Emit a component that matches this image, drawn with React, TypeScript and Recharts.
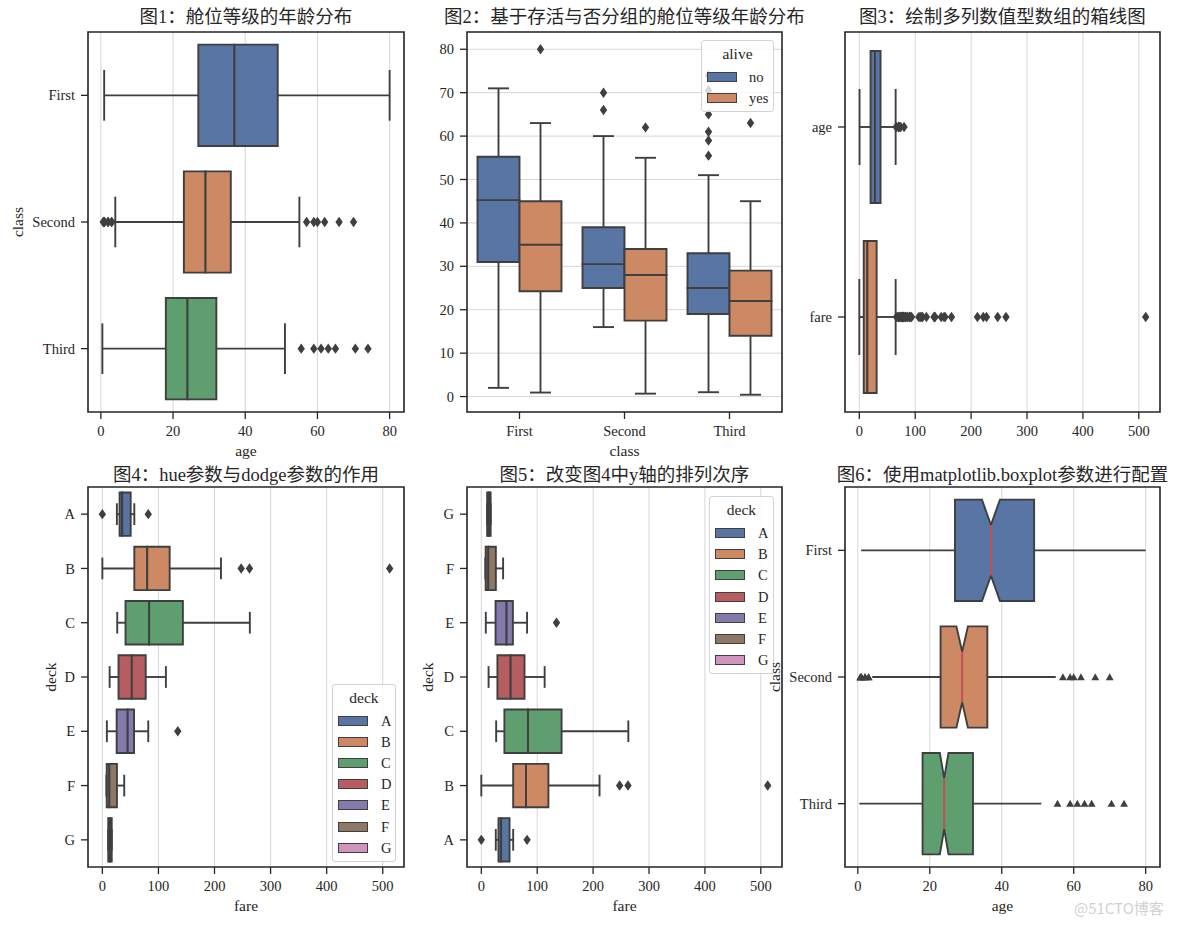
import React from 'react';
import { ScatterChart, Scatter, XAxis, YAxis, CartesianGrid, ReferenceArea, ReferenceLine } from 'recharts';

const FONT = '"Liberation Serif", "Noto Sans CJK SC", serif';
const EDGE = '#3f3f3f';
const AX = '#262626';
const GRID = '#d6d6d6';
const LW = 1.9;
const MEDIAN_RED = '#C44E52';
const PALETTE = ['#5975A4', '#CC8963', '#5F9E6E', '#B55D60', '#857AAB', '#8D7866', '#D095BF'];

// ---------- Data: age by class (图1 / 图6) ----------
const classCats = ['First', 'Second', 'Third'];
const ageLow = [0.92, 4, 0.42];
const ageQ1 = [27, 23, 18];
const ageMed = [37, 29, 24];
const ageQ3 = [49, 36, 32];
const ageHigh = [80, 55, 51];
const ageNotchLo = [34.5, 27.4, 22.8];
const ageNotchHi = [39.5, 30.6, 25.2];
const ageOutliers = [
  [],
  [0.67, 0.83, 0.83, 1, 1, 2, 2, 3, 3, 57, 59, 60, 62, 66, 70],
  [55.5, 59, 61, 63, 65, 70.5, 74],
];
const ageTicks = [0, 20, 40, 60, 80];

// ---------- Data: age by class & alive (图2) ----------
const aliveCats = ['no', 'yes'];
const noLow = [2, 16, 1];
const noQ1 = [31, 25, 19];
const noMed = [45.25, 30.5, 25];
const noQ3 = [55.25, 39, 33];
const noHigh = [71, 60, 51];
const noOutliers = [[], [66, 70], [55.5, 59, 61, 65, 70.5, 74]];
const yesLow = [0.92, 0.67, 0.42];
const yesQ1 = [24.25, 17.5, 14];
const yesMed = [35, 28, 22];
const yesQ3 = [45, 34, 29];
const yesHigh = [63, 55, 45];
const yesOutliers = [[80], [62], [63]];
const age2Ticks = [0, 10, 20, 30, 40, 50, 60, 70, 80];

// ---------- Data: numeric columns (图3) ----------
const colCats = ['age', 'fare'];
const colLow = [0.42, 0];
const colQ1 = [20.125, 7.91];
const colMed = [28, 14.45];
const colQ3 = [38, 31];
const colHigh = [65, 65];
const colOutliers = [
  [66, 70, 70, 70.5, 71, 71, 74, 80],
  [66.6, 69.3, 69.55, 71, 71.28, 73.5, 75.25, 76.29, 76.73, 77.29, 77.96, 78.27, 78.85, 79.2, 79.65,
    81.86, 82.17, 83.16, 83.48, 86.5, 89.1, 90, 91.08, 93.5, 106.43, 108.9, 110.88, 113.28, 120,
    133.65, 134.5, 135.63, 146.52, 151.55, 153.46, 164.87, 211.34, 221.78, 227.53, 247.52, 262.38, 512.33],
];
const fareTicks = [0, 100, 200, 300, 400, 500];

// ---------- Data: fare by deck (图4 / 图5) ----------
const deckCats = ['A', 'B', 'C', 'D', 'E', 'F', 'G'];
const deckLow = [25.9, 0, 26.55, 13, 8.05, 7.23, 10.46];
const deckQ1 = [30.7, 57, 41.3, 28.8, 25.5, 7.75, 10.46];
const deckMed = [35.5, 80, 83.5, 52.5, 45.2, 12.5, 13.58];
const deckQ3 = [50.5, 120, 143.6, 77.3, 56.5, 26, 16.7];
const deckHigh = [57, 211.5, 263, 113.3, 81.86, 39, 16.7];
const deckOutliers = [[0, 81.86], [247.52, 262.38, 512.33], [], [], [134.5], [], []];

// ---------- helpers ----------
type Box = { pos: number; low: number; q1: number; med: number; q3: number; high: number; fill: string; nlo?: number; nhi?: number };
type Out = { x: number; y: number };

const NotchShape = (props: any) => {
  const { x, y, width, height, b } = props;
  const px = (v: number) => x + ((v - b.q1) / (b.q3 - b.q1)) * width;
  const top = y;
  const bot = y + height;
  const yc = y + height / 2;
  const d = height / 4;
  const pts = [
    [x, top], [px(b.nlo), top], [px(b.med), yc - d], [px(b.nhi), top], [x + width, top],
    [x + width, bot], [px(b.nhi), bot], [px(b.med), yc + d], [px(b.nlo), bot], [x, bot],
  ].map((p) => p.join(',')).join(' ');
  return (
    <g>
      <polygon points={pts} fill={b.fill} stroke={EDGE} strokeWidth={LW} />
      <line x1={px(b.med)} y1={yc - d} x2={px(b.med)} y2={yc + d} stroke={MEDIAN_RED} strokeWidth={LW} />
    </g>
  );
};

function boxElements(b: Box, i: number, horiz: boolean, hw: number, cap: number, showCaps: boolean, notched: boolean) {
  const pt = (v: number, p: number) => (horiz ? { x: v, y: p } : { x: p, y: v });
  const line = (k: string, a: any, c: any) => (
    <ReferenceLine key={k} segment={[a, c]} stroke={EDGE} strokeWidth={LW} ifOverflow="visible" />
  );
  const els: any[] = [
    line(`wl${i}`, pt(b.low, b.pos), pt(b.q1, b.pos)),
    line(`wh${i}`, pt(b.q3, b.pos), pt(b.high, b.pos)),
  ];
  if (showCaps) {
    els.push(line(`cl${i}`, pt(b.low, b.pos - cap), pt(b.low, b.pos + cap)));
    els.push(line(`ch${i}`, pt(b.high, b.pos - cap), pt(b.high, b.pos + cap)));
  }
  const area = (k: string, v1: number, v2: number, extra: any = {}) =>
    horiz ? (
      <ReferenceArea key={k} x1={v1} x2={v2} y1={b.pos - hw} y2={b.pos + hw} fill={b.fill} fillOpacity={1}
        stroke={EDGE} strokeWidth={LW} ifOverflow="visible" {...extra} />
    ) : (
      <ReferenceArea key={k} x1={b.pos - hw} x2={b.pos + hw} y1={v1} y2={v2} fill={b.fill} fillOpacity={1}
        stroke={EDGE} strokeWidth={LW} ifOverflow="visible" {...extra} />
    );
  if (notched) {
    els.push(area(`n${i}`, b.q1, b.q3, { shape: (p: any) => <NotchShape {...p} b={b} /> }));
  } else {
    els.push(area(`a${i}`, b.q1, b.med));
    els.push(area(`b${i}`, b.med, b.q3));
  }
  return els;
}

const Diamond = ({ cx, cy }: any) => (
  <polygon points={`${cx},${cy - 5.2} ${cx + 3.7},${cy} ${cx},${cy + 5.2} ${cx - 3.7},${cy}`} fill={EDGE} />
);
const Triangle = ({ cx, cy }: any) => (
  <polygon points={`${cx},${cy - 3.8} ${cx + 3.9},${cy + 3.2} ${cx - 3.9},${cy + 3.2}`} fill={EDGE} />
);

type PanelProps = {
  rect: { l: number; t: number; w: number; h: number };
  horiz: boolean;
  boxes: Box[];
  hw: number;
  cap: number;
  outliers: Out[];
  valDomain: [number, number];
  valTicks: number[];
  catDomain: [number, number];
  catTicks: number[];
  catLabels: string[];
  catReversed: boolean;
  valLabel?: string;
  catLabel?: string;
  yLabelOffset?: number;
  marker?: 'dia' | 'tri';
  notched?: boolean;
  showCaps?: boolean;
};

const YW = 80;
const XH = 50;

function Panel(p: PanelProps) {
  const width = 88 + p.rect.w + 12;
  const height = 32 + p.rect.h + 50;
  const tickStyle = { fill: AX, fontSize: 14.5, fontFamily: FONT };
  const catProps: any = {
    type: 'number', domain: p.catDomain, ticks: p.catTicks, allowDataOverflow: true,
    tickFormatter: (v: number) => p.catLabels[Math.round(v)] ?? '', reversed: p.catReversed,
  };
  const valProps: any = { type: 'number', domain: p.valDomain, ticks: p.valTicks, allowDataOverflow: true };
  const xProps = p.horiz ? valProps : catProps;
  const yProps = p.horiz ? catProps : valProps;
  const xLabel = p.horiz ? p.valLabel : p.catLabel;
  const yLabel = p.horiz ? p.catLabel : p.valLabel;
  const xd = xProps.domain;
  const yd = yProps.domain;
  return (
    <div style={{ position: 'absolute', left: p.rect.l - 88, top: p.rect.t - 32, width, height }}>
      <ScatterChart width={width} height={height} margin={{ top: 32, right: 12, bottom: 50 - XH, left: 88 - YW }}
        style={{ fontFamily: FONT }}>
        <CartesianGrid horizontal={!p.horiz} vertical={p.horiz} stroke={GRID} strokeWidth={1} />
        <XAxis dataKey="x" {...xProps} height={XH} axisLine={false} tickSize={7} tickMargin={7}
          tickLine={{ stroke: AX, strokeWidth: 1.3 }} tick={tickStyle} interval={0}
          label={xLabel ? { value: xLabel, position: 'insideBottom', offset: 6, fill: AX, fontSize: 15.5, fontFamily: FONT } : undefined} />
        <YAxis dataKey="y" {...yProps} width={YW} axisLine={false} tickSize={7} tickMargin={6}
          tickLine={{ stroke: AX, strokeWidth: 1.3 }} tick={tickStyle} interval={0}
          label={yLabel ? { value: yLabel, angle: -90, position: 'insideLeft', offset: p.yLabelOffset ?? 9, fill: AX, fontSize: 15.5, fontFamily: FONT, style: { textAnchor: 'middle' } } : undefined} />
        {p.boxes.flatMap((b, i) => boxElements(b, i, p.horiz, p.hw, p.cap, p.showCaps !== false, !!p.notched))}
        <ReferenceArea x1={xd[0]} x2={xd[1]} y1={yd[0]} y2={yd[1]} fill="none" fillOpacity={0}
          stroke={AX} strokeWidth={1.6} ifOverflow="visible" />
        <Scatter data={p.outliers} isAnimationActive={false}
          shape={(sp: any) => (p.marker === 'tri' ? <Triangle cx={sp.cx} cy={sp.cy} /> : <Diamond cx={sp.cx} cy={sp.cy} />)} />
      </ScatterChart>
    </div>
  );
}

function LegendBox({ left, top, width, title, items, colors, spacing, textLeft }: any) {
  const height = 37 + (items.length - 1) * spacing + 14;
  return (
    <div style={{
      position: 'absolute', left, top, width, height, boxSizing: 'border-box',
      border: '1px solid #d3d3d3', borderRadius: 3, background: 'rgba(255,255,255,0.8)',
      fontFamily: FONT, color: AX,
    }}>
      <div style={{ position: 'absolute', left: 0, width: '100%', top: 4, lineHeight: '18px', fontSize: 15.5, textAlign: 'center' }}>{title}</div>
      {items.map((it: string, k: number) => (
        <React.Fragment key={it}>
          <div style={{
            position: 'absolute', left: 5, top: 37 + k * spacing - 6, width: 30, height: 10,
            background: colors[k], border: `1.2px solid ${EDGE}`, boxSizing: 'border-box',
          }} />
          <div style={{ position: 'absolute', left: textLeft, top: 37 + k * spacing - 9, lineHeight: '16px', fontSize: 14.5 }}>{it}</div>
        </React.Fragment>
      ))}
    </div>
  );
}

function Title({ cx, cy, text }: any) {
  return (
    <div style={{
      position: 'absolute', left: cx - 300, width: 600, top: cy - 12, lineHeight: '24px',
      textAlign: 'center', fontSize: 18.5, color: AX, fontFamily: FONT, whiteSpace: 'nowrap',
    }}>{text}</div>
  );
}

const AGE_DOMAIN: [number, number] = [-3.56, 83.98];
const FARE_DOMAIN: [number, number] = [-25.6, 537.9];

export default function App() {
  const classBoxes: Box[] = classCats.map((_, i) => ({
    pos: i, low: ageLow[i], q1: ageQ1[i], med: ageMed[i], q3: ageQ3[i], high: ageHigh[i],
    fill: PALETTE[i], nlo: ageNotchLo[i], nhi: ageNotchHi[i],
  }));
  const classOut: Out[] = ageOutliers.flatMap((arr, i) => arr.map((v) => ({ x: v, y: i })));

  const aliveBoxes: Box[] = classCats.flatMap((_, i) => [
    { pos: i - 0.2, low: noLow[i], q1: noQ1[i], med: noMed[i], q3: noQ3[i], high: noHigh[i], fill: PALETTE[0] },
    { pos: i + 0.2, low: yesLow[i], q1: yesQ1[i], med: yesMed[i], q3: yesQ3[i], high: yesHigh[i], fill: PALETTE[1] },
  ]);
  const aliveOut: Out[] = [
    ...noOutliers.flatMap((arr, i) => arr.map((v) => ({ x: i - 0.2, y: v }))),
    ...yesOutliers.flatMap((arr, i) => arr.map((v) => ({ x: i + 0.2, y: v }))),
  ];

  const colBoxes: Box[] = colCats.map((_, i) => ({
    pos: i, low: colLow[i], q1: colQ1[i], med: colMed[i], q3: colQ3[i], high: colHigh[i], fill: PALETTE[i],
  }));
  const colOut: Out[] = colOutliers.flatMap((arr, i) => arr.map((v) => ({ x: v, y: i })));

  const deckBoxes: Box[] = deckCats.map((_, i) => ({
    pos: i, low: deckLow[i], q1: deckQ1[i], med: deckMed[i], q3: deckQ3[i], high: deckHigh[i], fill: PALETTE[i],
  }));
  const deckOut: Out[] = deckOutliers.flatMap((arr, i) => arr.map((v) => ({ x: v, y: i })));

  return (
    <div style={{ position: 'absolute', left: 0, top: 0, width: 1184, height: 926, background: '#fff', overflow: 'hidden', fontFamily: FONT }}>
      <Title cx={246} cy={17} text="图1：舱位等级的年龄分布" />
      <Title cx={624.5} cy={17} text="图2：基于存活与否分组的舱位等级年龄分布" />
      <Title cx={1002.5} cy={17} text="图3：绘制多列数值型数组的箱线图" />
      <Title cx={246} cy={475} text="图4：hue参数与dodge参数的作用" />
      <Title cx={624.5} cy={475} text="图5：改变图4中y轴的排列次序" />
      <Title cx={1002.5} cy={475} text="图6：使用matplotlib.boxplot参数进行配置" />

      <Panel rect={{ l: 88, t: 32, w: 316, h: 380 }} horiz boxes={classBoxes} hw={0.4} cap={0.2} outliers={classOut}
        valDomain={AGE_DOMAIN} valTicks={ageTicks} catDomain={[-0.5, 2.5]} catTicks={[0, 1, 2]} catLabels={classCats}
        catReversed valLabel="age" catLabel="class" yLabelOffset={9} />

      <Panel rect={{ l: 467, t: 32, w: 315, h: 380 }} horiz={false} boxes={aliveBoxes} hw={0.2} cap={0.1} outliers={aliveOut}
        valDomain={AGE_DOMAIN} valTicks={age2Ticks} catDomain={[-0.5, 2.5]} catTicks={[0, 1, 2]} catLabels={classCats}
        catReversed={false} catLabel="class" />
      <LegendBox left={701} top={40} width={73} title="alive" items={aliveCats} colors={[PALETTE[0], PALETTE[1]]} spacing={20.5} textLeft={47} />

      <Panel rect={{ l: 845, t: 32, w: 315, h: 380 }} horiz boxes={colBoxes} hw={0.4} cap={0.2} outliers={colOut}
        valDomain={FARE_DOMAIN} valTicks={fareTicks} catDomain={[-0.5, 1.5]} catTicks={[0, 1]} catLabels={colCats}
        catReversed />

      <Panel rect={{ l: 88, t: 487, w: 316, h: 380 }} horiz boxes={deckBoxes} hw={0.4} cap={0.2} outliers={deckOut}
        valDomain={FARE_DOMAIN} valTicks={fareTicks} catDomain={[-0.5, 6.5]} catTicks={[0, 1, 2, 3, 4, 5, 6]} catLabels={deckCats}
        catReversed valLabel="fare" catLabel="deck" yLabelOffset={42} />
      <LegendBox left={332} top={684} width={64} title="deck" items={deckCats} colors={PALETTE} spacing={21.1} textLeft={48} />

      <Panel rect={{ l: 467, t: 487, w: 315, h: 380 }} horiz boxes={deckBoxes} hw={0.4} cap={0.2} outliers={deckOut}
        valDomain={FARE_DOMAIN} valTicks={fareTicks} catDomain={[-0.5, 6.5]} catTicks={[0, 1, 2, 3, 4, 5, 6]} catLabels={deckCats}
        catReversed={false} valLabel="fare" catLabel="deck" yLabelOffset={40} />
      <LegendBox left={709} top={496} width={65} title="deck" items={deckCats} colors={PALETTE} spacing={21.2} textLeft={48} />

      <Panel rect={{ l: 845, t: 487, w: 315, h: 380 }} horiz boxes={classBoxes} hw={0.4} cap={0.2} outliers={classOut}
        valDomain={AGE_DOMAIN} valTicks={ageTicks} catDomain={[-0.5, 2.5]} catTicks={[0, 1, 2]} catLabels={classCats}
        catReversed valLabel="age" catLabel="class" yLabelOffset={9} marker="tri" notched showCaps={false} />

      <div style={{ position: 'absolute', left: 1074, top: 897, fontSize: 15, color: '#d2d2d2', fontFamily: '"Noto Sans CJK SC", "Noto Sans", sans-serif', whiteSpace: 'nowrap' }}>@51CTO博客</div>
    </div>
  );
}
